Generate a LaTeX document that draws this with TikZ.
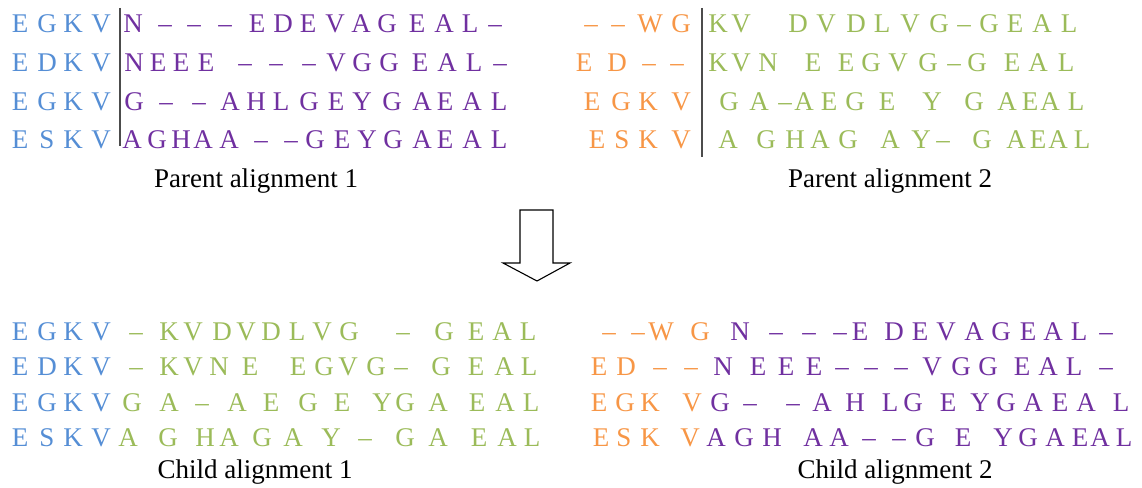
\documentclass[tikz,border=0pt]{standalone}
\usepackage{fontspec}
\setmainfont{Liberation Serif}

\definecolor{resb}{RGB}{85,142,213}
\definecolor{resp}{RGB}{112,48,160}
\definecolor{reso}{RGB}{247,150,70}
\definecolor{resg}{RGB}{155,187,89}

\begin{document}
\begin{tikzpicture}[x=1bp,y=-1bp,
    res/.style={anchor=base,inner sep=0pt,font=\fontsize{27bp}{27bp}\selectfont},
    caption/.style={anchor=base,inner sep=0pt,font=\fontsize{27bp}{27bp}\selectfont},
    cut/.style={line width=1.5bp,black!70},
    blockarrow/.style={draw,fill=white,line width=1.1bp,line join=miter}]

  \useasboundingbox (0,0) rectangle (1142,488);

  % parent alignment 1
  \foreach \x/\c/\col [count=\k] in {20/E/b,47/G/b,73/K/b,101/V/b,133/N/p,165/–/p,194/–/p,225/–/p,257/E/p,283/D/p,308/E/p,335/V/p,361/A/p,387/G/p,417/E/p,444/A/p,470/L/p,495/–/p}
    \node[res,text=res\col] (pa1r1c\k) at (\x,33) {\c};
  \foreach \x/\c/\col [count=\k] in {20/E/b,47/D/b,73/K/b,101/V/b,134/N/p,158/E/p,181/E/p,206/E/p,245/–/p,276/–/p,309/–/p,336/V/p,362/G/p,389/G/p,420/E/p,447/A/p,474/L/p,500/–/p}
    \node[res,text=res\col] (pa1r2c\k) at (\x,72) {\c};
  \foreach \x/\c/\col [count=\k] in {20/E/b,47/G/b,73/K/b,101/V/b,134/G/p,166/–/p,199/–/p,230/A/p,256/H/p,281/L/p,309/G/p,336/E/p,362/Y/p,392/G/p,422/A/p,445/E/p,472/A/p,499/L/p}
    \node[res,text=res\col] (pa1r3c\k) at (\x,111) {\c};
  \foreach \x/\c/\col [count=\k] in {20/E/b,47/S/b,73/K/b,101/V/b,132/A/p,157/G/p,181/H/p,203/A/p,229/A/p,261/–/p,291/–/p,315/G/p,342/E/p,367/Y/p,393/G/p,422/A/p,445/E/p,472/A/p,499/L/p}
    \node[res,text=res\col] (pa1r4c\k) at (\x,149) {\c};
  \draw[cut] (120,8) -- (120,146);
  \node[caption] (pa1) at (256,188) {Parent alignment 1};

  % parent alignment 2
  \foreach \x/\c/\col [count=\k] in {591/–/o,618/–/o,650/W/o,681/G/o,718/K/g,741/V/g,798/D/g,826/V/g,856/D/g,882/L/g,910/V/g,939/G/g,964/–/g,989/G/g,1015/E/g,1042/A/g,1069/L/g}
    \node[res,text=res\col] (pa2r1c\k) at (\x,33) {\c};
  \foreach \x/\c/\col [count=\k] in {584/E/o,617/D/o,649/–/o,677/–/o,718/K/g,741/V/g,768/N/g,813/E/g,846/E/g,871/G/g,898/V/g,928/G/g,954/–/g,977/G/g,1012/E/g,1038/A/g,1066/L/g}
    \node[res,text=res\col] (pa2r2c\k) at (\x,72) {\c};
  \foreach \x/\c/\col [count=\k] in {592/E/o,621/G/o,648/K/o,681/V/o,729/G/g,759/A/g,785/–/g,804/A/g,829/E/g,855/G/g,887/E/g,932/Y/g,974/G/g,1007/A/g,1030/E/g,1050/A/g,1076/L/g}
    \node[res,text=res\col] (pa2r3c\k) at (\x,111) {\c};
  \foreach \x/\c/\col [count=\k] in {597/E/o,622/S/o,648/K/o,681/V/o,728/A/g,766/G/g,795/H/g,820/A/g,848/G/g,890/A/g,921/Y/g,943/–/g,982/G/g,1016/A/g,1038/E/g,1058/A/g,1082/L/g}
    \node[res,text=res\col] (pa2r4c\k) at (\x,149) {\c};
  \draw[cut] (702,8) -- (702,157);
  \node[caption] (pa2) at (890,188) {Parent alignment 2};

  % arrow
  \draw[blockarrow] (520,210) -- (553,210) -- (553,263) -- (570,263) -- (537,281)
    -- (503,263) -- (520,263) -- cycle;

  % child alignment 1
  \foreach \x/\c/\col [count=\k] in {20/E/b,47/G/b,73/K/b,101/V/b,136/–/g,169/K/g,193/V/g,222/D/g,246/V/g,271/D/g,297/L/g,322/V/g,349/G/g,403/–/g,444/G/g,476/E/g,502/A/g,528/L/g}
    \node[res,text=res\col] (ca1r1c\k) at (\x,341) {\c};
  \foreach \x/\c/\col [count=\k] in {20/E/b,47/D/b,73/K/b,101/V/b,136/–/g,169/K/g,193/V/g,219/N/g,250/E/g,298/E/g,324/G/g,348/V/g,376/G/g,401/–/g,441/G/g,476/E/g,504/A/g,529/L/g}
    \node[res,text=res\col] (ca1r2c\k) at (\x,376) {\c};
  \foreach \x/\c/\col [count=\k] in {20/E/b,47/G/b,73/K/b,101/V/b,132/G/g,169/A/g,202/–/g,237/A/g,271/E/g,308/G/g,342/E/g,382/Y/g,405/G/g,438/A/g,477/E/g,505/A/g,531/L/g}
    \node[res,text=res\col] (ca1r3c\k) at (\x,411) {\c};
  \foreach \x/\c/\col [count=\k] in {20/E/b,47/S/b,73/K/b,101/V/b,128/A/g,168/G/g,205/H/g,229/A/g,262/G/g,293/A/g,331/Y/g,365/–/g,405/G/g,438/A/g,479/E/g,507/A/g,532/L/g}
    \node[res,text=res\col] (ca1r4c\k) at (\x,446) {\c};
  \node[caption] (ca1) at (255,478) {Child alignment 1};

  % child alignment 2
  \foreach \x/\c/\col [count=\k] in {609/–/o,638/–/o,661/W/o,700/G/o,740/N/p,776/–/p,809/–/p,840/–/p,860/E/p,894/D/p,920/E/p,946/V/p,974/A/p,1001/G/p,1028/E/p,1053/A/p,1079/L/p,1106/–/p}
    \node[res,text=res\col] (ca2r1c\k) at (\x,341) {\c};
  \foreach \x/\c/\col [count=\k] in {599/E/o,626/D/o,660/–/o,691/–/o,723/N/p,758/E/p,786/E/p,814/E/p,842/–/p,871/–/p,901/–/p,932/V/p,961/G/p,988/G/p,1022/E/p,1048/A/p,1074/L/p,1106/–/p}
    \node[res,text=res\col] (ca2r2c\k) at (\x,376) {\c};
  \foreach \x/\c/\col [count=\k] in {599/E/o,625/G/o,650/K/o,692/V/o,720/G/p,750/–/p,793/–/p,822/A/p,855/H/p,890/L/p,913/G/p,948/E/p,980/Y/p,1006/G/p,1033/A/p,1060/E/p,1086/A/p,1121/L/p}
    \node[res,text=res\col] (ca2r3c\k) at (\x,411) {\c};
  \foreach \x/\c/\col [count=\k] in {601/E/o,624/S/o,650/K/o,690/V/o,716/A/p,744/G/p,772/H/p,813/A/p,839/A/p,869/–/p,899/–/p,925/G/p,963/E/p,1003/Y/p,1028/G/p,1055/A/p,1080/E/p,1100/A/p,1124/L/p}
    \node[res,text=res\col] (ca2r4c\k) at (\x,446) {\c};
  \node[caption] (ca2) at (895,478) {Child alignment 2};

\end{tikzpicture}
\end{document}
